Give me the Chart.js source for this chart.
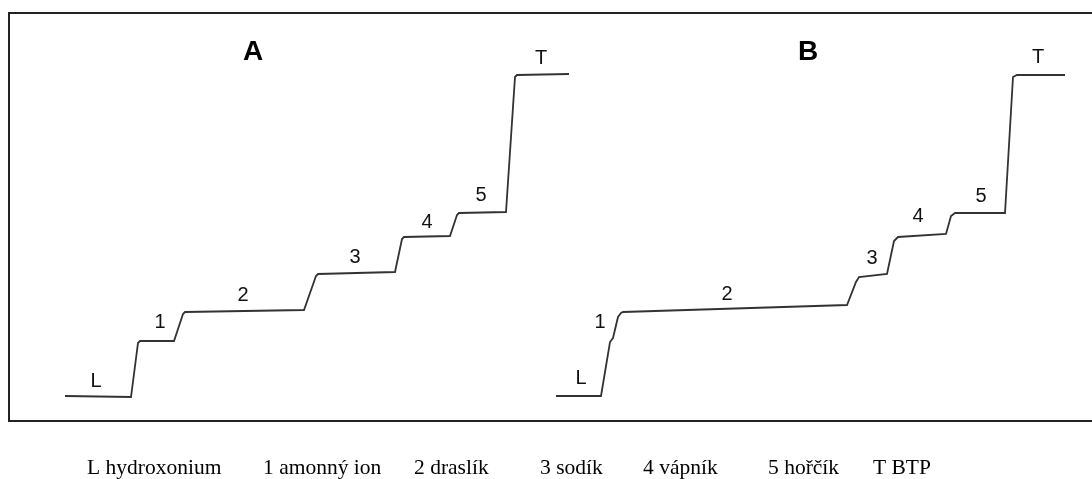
<!DOCTYPE html>
<html>
<head>
<meta charset="utf-8">
<script src="https://cdn.jsdelivr.net/npm/chart.js@4/dist/chart.umd.min.js"></script>
<style>
html,body{margin:0;padding:0;background:#fff;}
#wrap{width:1092px;height:479px;}
</style>
</head>
<body>
<div id="wrap"><canvas id="c" width="1092" height="479"></canvas></div>
<script>
// Curve A (time, detector signal)
const timeA   = [56, 122, 129, 131, 165, 174, 176, 295, 307, 309, 386, 393, 395, 441, 448, 450, 497, 506, 508, 560];
const signalA = [25, 24, 78, 80, 80, 107, 109, 111, 145, 147, 149, 182, 184, 185, 206, 208, 209, 344, 346, 347];
// Curve B
const timeB   = [547, 592, 601, 604, 609, 612, 614, 838, 847, 850, 878, 885, 889, 937, 942, 946, 996, 1004, 1008, 1056];
const signalB = [25, 25, 79, 83, 104, 108, 109, 116, 139, 144, 147, 180, 184, 187, 205, 208, 208, 344, 346, 346];

// Zone labels on curves
const zoneLabels = ["L", "1", "2", "3", "4", "5", "T"];
const labelTimeA   = [87, 151, 234, 346, 418, 472, 532];
const labelSignalA = [40, 99, 126, 164, 199, 226, 363];
const labelTimeB   = [572, 591, 718, 863, 909, 972, 1029];
const labelSignalB = [43, 99, 127, 163, 205, 225, 364];

// Panel titles
const panelTitles = ["A", "B"];
const panelTitleTime = [244, 799];
const panelTitleSignal = [369, 369];

// Legend (key) entries
const keyTexts = ["L hydroxonium", "1 amonný ion", "2 draslík", "3 sodík", "4 vápník", "5 hořčík", "T BTP"];
const keyX = [87, 263, 414, 540, 643, 768, 873];

function pts(xs, ys){ return xs.map((x,i)=>({x:x, y:ys[i]})); }

const annotatePlugin = {
  id: 'annotate',
  afterDraw(chart){
    const ctx = chart.ctx, a = chart.chartArea;
    const xs = chart.scales.x, ys = chart.scales.y;
    ctx.save();
    // frame
    ctx.strokeStyle = '#222';
    ctx.lineWidth = 2;
    ctx.beginPath();
    ctx.moveTo(a.right + 2, a.top);
    ctx.lineTo(a.left, a.top);
    ctx.lineTo(a.left, a.bottom);
    ctx.lineTo(a.right + 2, a.bottom);
    ctx.stroke();
    // panel titles
    ctx.fillStyle = '#000';
    ctx.textAlign = 'center';
    ctx.textBaseline = 'middle';
    ctx.font = 'bold 28px "Liberation Sans", Arial, sans-serif';
    panelTitles.forEach((t,i)=>{
      ctx.fillText(t, xs.getPixelForValue(panelTitleTime[i]), ys.getPixelForValue(panelTitleSignal[i]));
    });
    // zone labels
    ctx.font = '20px "Liberation Sans", Arial, sans-serif';
    ctx.fillStyle = '#111';
    zoneLabels.forEach((t,i)=>{
      ctx.fillText(t, xs.getPixelForValue(labelTimeA[i]), ys.getPixelForValue(labelSignalA[i]));
      ctx.fillText(t, xs.getPixelForValue(labelTimeB[i]), ys.getPixelForValue(labelSignalB[i]));
    });
    // key
    ctx.font = '21.5px "Liberation Serif", "Times New Roman", serif';
    ctx.textAlign = 'left';
    ctx.textBaseline = 'alphabetic';
    ctx.fillStyle = '#000';
    keyTexts.forEach((t,i)=>{ ctx.fillText(t, keyX[i], 474); });
    ctx.restore();
  }
};

new Chart(document.getElementById('c'), {
  type: 'line',
  data: {
    datasets: [
      { label: 'A', data: pts(timeA, signalA), borderColor: '#333', borderWidth: 1.8,
        pointRadius: 0, tension: 0, fill: false },
      { label: 'B', data: pts(timeB, signalB), borderColor: '#333', borderWidth: 1.8,
        pointRadius: 0, tension: 0, fill: false }
    ]
  },
  options: {
    responsive: false,
    animation: false,
    devicePixelRatio: 1,
    layout: { padding: { left: 9, top: 13, right: 0, bottom: 58 } },
    plugins: { legend: { display: false }, tooltip: { enabled: false }, title: { display: false } },
    scales: {
      x: { type: 'linear', min: 0, max: 1083, display: false },
      y: { type: 'linear', min: 0, max: 408, display: false }
    }
  },
  plugins: [annotatePlugin]
});
</script>
</body>
</html>
